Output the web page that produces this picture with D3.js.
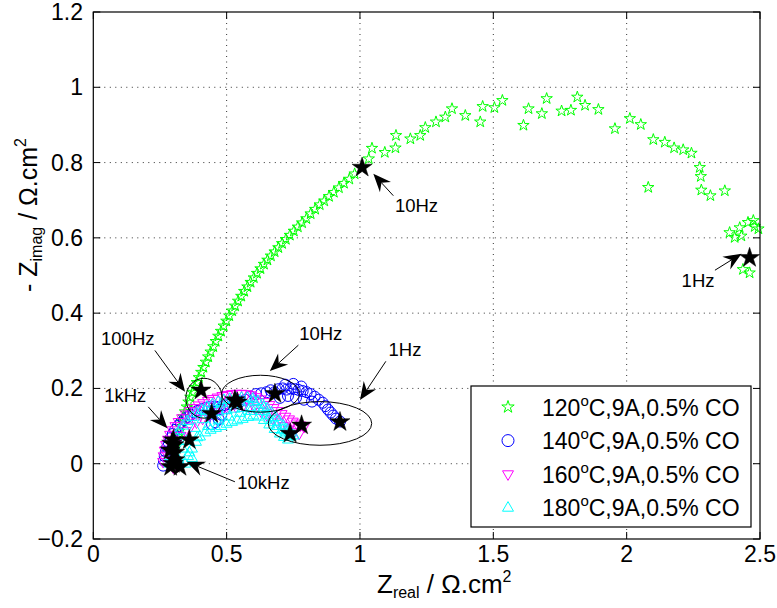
<!DOCTYPE html>
<html><head><meta charset="utf-8">
<script src="https://cdn.jsdelivr.net/npm/d3@7"></script>
<style>body{margin:0;background:#fff;} text{font-family:"Liberation Sans",Arial,Helvetica,sans-serif;fill:#000;}</style>
</head><body><svg id="c" width="777" height="608"></svg>
<script>
// ---------- data ----------
const xTicks=[0,0.5,1,1.5,2,2.5];
const xTickLabels=["0","0.5","1","1.5","2","2.5"];
const yTicks=[-0.2,0,0.2,0.4,0.6,0.8,1,1.2];
const yTickLabels=["\u22120.2","0","0.2","0.4","0.6","0.8","1","1.2"];
const seriesTemps=["120","140","160","180"];
const seriesRest="C,9A,0.5% CO";

const zr120=[0.292,0.296,0.300,0.303,0.307,0.311,0.316,0.321,0.326,0.332,0.338,0.344,0.351,0.357,0.364,0.372,0.380,0.388,0.396,0.405,0.413,0.422,0.431,0.440,0.450,0.459,0.469,0.479,0.489,0.499,0.510,0.521,0.532,0.543,0.555,0.566,0.578,0.590,0.602,0.614,0.627,0.640,0.653,0.666,0.680,0.694,0.708,0.722,0.737,0.752,0.767,0.783,0.799,0.815,0.832,0.849,0.866,0.884,0.902,0.921,0.940,0.960,0.980,1.008,
 1.033,1.045,1.093,1.133,1.135,1.189,1.226,1.245,1.285,1.320,1.345,1.395,1.451,1.460,1.504,1.534,1.613,1.632,1.682,1.700,1.756,1.791,1.815,1.844,1.894,1.956,2.012,2.053,2.081,2.100,2.143,2.178,2.212,2.243,2.274,2.278,2.280,2.314,2.368,2.386,2.405,2.424,2.430,2.455,2.475,2.480,2.494,2.436,2.461,2.461];
const zi120=[0.000,0.012,0.024,0.036,0.048,0.060,0.073,0.086,0.099,0.112,0.125,0.138,0.151,0.164,0.177,0.190,0.203,0.216,0.229,0.243,0.256,0.270,0.284,0.297,0.311,0.325,0.339,0.352,0.366,0.379,0.393,0.406,0.419,0.432,0.445,0.458,0.470,0.482,0.494,0.506,0.518,0.530,0.541,0.552,0.563,0.574,0.585,0.596,0.607,0.618,0.629,0.640,0.651,0.664,0.676,0.688,0.698,0.710,0.721,0.733,0.745,0.756,0.770,0.787,
 0.810,0.838,0.827,0.839,0.872,0.863,0.872,0.893,0.908,0.921,0.943,0.925,0.908,0.949,0.946,0.965,0.899,0.943,0.930,0.970,0.937,0.939,0.974,0.952,0.941,0.890,0.917,0.901,0.734,0.861,0.854,0.839,0.834,0.825,0.787,0.763,0.727,0.712,0.725,0.614,0.601,0.627,0.605,0.641,0.646,0.630,0.624,0.516,0.507,0.547];

const zr140=[0.262,0.265,0.268,0.272,0.277,0.283,0.290,0.298,0.307,0.317,0.328,0.340,0.352,0.365,0.378,0.392,0.406,0.420,0.434,0.445,0.458,0.470,0.480,0.475,0.462,0.455,0.470,0.490,0.510,0.530,0.550,0.570,0.590,0.610,0.630,0.650,0.665,0.680,0.695,0.710,0.725,0.740,0.755,0.770,0.785,0.800,0.815,0.830,0.845,0.860,0.870,0.880,0.890,0.900,0.910,0.925,0.700,0.730,0.760,0.790,0.820,0.720,0.750,0.780];
const zi140=[-0.005,0.008,0.020,0.032,0.044,0.056,0.068,0.079,0.090,0.100,0.109,0.117,0.124,0.130,0.136,0.141,0.145,0.148,0.150,0.105,0.110,0.118,0.130,0.145,0.150,0.152,0.150,0.155,0.158,0.160,0.165,0.170,0.178,0.185,0.187,0.190,0.195,0.190,0.198,0.200,0.197,0.200,0.198,0.196,0.193,0.190,0.185,0.178,0.170,0.162,0.153,0.144,0.136,0.128,0.120,0.112,0.175,0.180,0.175,0.170,0.165,0.210,0.212,0.205];

const zr160=[0.262,0.264,0.268,0.273,0.280,0.288,0.297,0.308,0.320,0.333,0.347,0.362,0.378,0.395,0.412,0.430,0.448,0.466,0.484,0.502,0.520,0.538,0.556,0.574,0.592,0.610,0.627,0.644,0.660,0.676,0.691,0.706,0.720,0.734,0.748,0.762,0.776,0.790,
 0.285,0.295,0.310,0.327,0.345,0.365,0.387,0.410,0.435,0.460,0.485,0.510,0.535,0.560,0.585,0.608,0.630,0.651,0.672,0.692,0.712,0.732,0.752,0.772,0.300,0.318];
const zi160=[0.005,0.020,0.035,0.050,0.064,0.077,0.089,0.100,0.111,0.121,0.131,0.140,0.148,0.155,0.161,0.167,0.172,0.176,0.180,0.183,0.185,0.186,0.186,0.185,0.182,0.177,0.171,0.164,0.156,0.148,0.140,0.132,0.125,0.118,0.112,0.107,0.102,0.098,
 0.030,0.045,0.060,0.074,0.087,0.099,0.110,0.120,0.129,0.137,0.143,0.148,0.151,0.152,0.150,0.145,0.138,0.129,0.120,0.110,0.100,0.091,0.084,0.080,-0.010,-0.005];

const zr180=[0.285,0.288,0.293,0.300,0.310,0.322,0.336,0.352,0.369,0.387,0.406,0.426,0.447,0.468,0.490,0.512,0.534,0.556,0.578,0.598,0.617,0.635,0.652,0.668,0.683,0.698,0.712,0.726,0.740,0.752,
 0.345,0.355,0.370,0.385,0.400,0.420,0.440,0.460,0.480,0.500,0.520,0.540,0.560,0.580,0.600,0.620,0.640,0.660,0.680,0.700,0.715,0.730,
 0.320,0.350,0.380,0.410,0.440,0.470,0.500,0.530,0.560,0.590,0.620,0.650,0.680,0.710,0.740,
 0.360,0.390,0.430,0.470,0.510,0.550,0.590,0.630,0.660,0.690,0.720,0.420,0.480,0.550,0.600,0.640,0.335,0.370];
const zi180=[0.000,0.020,0.040,0.058,0.074,0.088,0.101,0.113,0.124,0.134,0.143,0.151,0.158,0.164,0.169,0.172,0.174,0.175,0.175,0.172,0.166,0.157,0.147,0.136,0.124,0.112,0.101,0.091,0.082,0.075,
 0.000,0.020,0.040,0.058,0.072,0.083,0.090,0.095,0.100,0.106,0.111,0.115,0.119,0.124,0.128,0.125,0.116,0.104,0.092,0.080,0.071,0.064,
 0.010,0.060,0.095,0.118,0.130,0.138,0.142,0.146,0.148,0.150,0.145,0.130,0.110,0.090,0.072,
 0.030,0.070,0.100,0.115,0.125,0.135,0.140,0.140,0.120,0.100,0.085,0.140,0.160,0.165,0.165,0.150,0.040,0.015];

const markZr=[0.300,0.303,0.404,1.008,2.461, 0.290,0.294,0.444,0.681,0.925, 0.306,0.300,0.360,0.531,0.781, 0.325,0.288,0.305,0.540,0.738];
const markZi=[0.000,0.050,0.195,0.787,0.547, -0.008,0.054,0.133,0.186,0.111, 0.010,0.063,0.063,0.169,0.102, -0.008,0.036,0.030,0.163,0.080];

// annotations (data units)
const ellipses=[{cx:0.415,cy:0.174,rx:0.068,ry:0.053},{cx:0.627,cy:0.186,rx:0.146,ry:0.049},{cx:0.850,cy:0.107,rx:0.194,ry:0.058}];
const notes=[
 {t:"100Hz",tx:0.029,ty:0.315,x1:0.231,y1:0.301,x2:0.344,y2:0.191},
 {t:"1kHz",tx:0.041,ty:0.164,x1:0.206,y1:0.151,x2:0.278,y2:0.094},
 {t:"10Hz",tx:0.772,ty:0.328,x1:0.769,y1:0.315,x2:0.662,y2:0.246},
 {t:"1Hz",tx:1.107,ty:0.285,x1:1.097,y1:0.272,x2:1.000,y2:0.169},
 {t:"10kHz",tx:0.540,ty:-0.066,x1:0.531,y1:-0.048,x2:0.350,y2:0.005},
 {t:"10Hz",tx:1.131,ty:0.668,x1:1.125,y1:0.712,x2:1.050,y2:0.770},
 {t:"1Hz",tx:2.206,ty:0.469,x1:2.331,y1:0.514,x2:2.431,y2:0.558}
];

// ---------- drawing ----------
const svg=d3.select("#c");
const L=93.3,R=760,T=12,B=539;
const x=d3.scaleLinear().domain([0,2.5]).range([L,R]);
const y=d3.scaleLinear().domain([-0.2,1.2]).range([B,T]);

function starPath(Ro){const ri=Ro*0.382;let p="";for(let i=0;i<10;i++){const a=-Math.PI/2+i*Math.PI/5;const rr=i%2?ri:Ro;p+=(i?"L":"M")+(rr*Math.cos(a)).toFixed(2)+","+(rr*Math.sin(a)).toFixed(2);}return p+"Z";}
const triDown="M-5.5,-3.4L5.5,-3.4L0,6.2Z", triUp="M-5.5,3.4L5.5,3.4L0,-6.2Z";

svg.append("rect").attr("x",0).attr("y",0).attr("width",777).attr("height",608).attr("fill","#fff");

// grid
const g=svg.append("g");
g.selectAll(".gx").data(xTicks.slice(1,-1)).enter().append("line")
 .attr("x1",d=>x(d)).attr("x2",d=>x(d)).attr("y1",T).attr("y2",B)
 .attr("stroke","#333").attr("stroke-width",1).attr("stroke-dasharray","1,4.5");
g.selectAll(".gy").data(yTicks.slice(1,-1)).enter().append("line")
 .attr("y1",d=>y(d)).attr("y2",d=>y(d)).attr("x1",L).attr("x2",R)
 .attr("stroke","#333").attr("stroke-width",1).attr("stroke-dasharray","1,4.5");

const data=(a,b)=>a.map((v,i)=>[v,b[i]]);
const s120=data(zr120,zi120),s140=data(zr140,zi140),s160=data(zr160,zi160),s180=data(zr180,zi180);
const smallStar=starPath(6);
svg.append("g").selectAll("path").data(s120).enter().append("path")
 .attr("d",smallStar).attr("transform",d=>`translate(${x(d[0])},${y(d[1])})`)
 .attr("fill","none").attr("stroke","#00ff00").attr("stroke-width",1);
svg.append("g").selectAll("circle").data(s140).enter().append("circle")
 .attr("cx",d=>x(d[0])).attr("cy",d=>y(d[1])).attr("r",5.5)
 .attr("fill","none").attr("stroke","#0000ff").attr("stroke-width",1);
svg.append("g").selectAll("path").data(s160).enter().append("path")
 .attr("d",triDown).attr("transform",d=>`translate(${x(d[0])},${y(d[1])})`)
 .attr("fill","none").attr("stroke","#ff00ff").attr("stroke-width",1);
svg.append("g").selectAll("path").data(s180).enter().append("path")
 .attr("d",triUp).attr("transform",d=>`translate(${x(d[0])},${y(d[1])})`)
 .attr("fill","none").attr("stroke","#00ffff").attr("stroke-width",1);

// frequency marker stars
svg.append("g").selectAll("path").data(data(markZr,markZi)).enter().append("path")
 .attr("d",starPath(10.5)).attr("transform",d=>`translate(${x(d[0])},${y(d[1])})`)
 .attr("fill","#000").attr("stroke","#000").attr("stroke-width",0.5);

// ellipses
svg.append("g").selectAll("ellipse").data(ellipses).enter().append("ellipse")
 .attr("cx",d=>x(d.cx)).attr("cy",d=>y(d.cy))
 .attr("rx",d=>x(d.rx)-x(0)).attr("ry",d=>y(0)-y(d.ry))
 .attr("fill","none").attr("stroke","#000").attr("stroke-width",1);

// arrows
const an=svg.append("g");
notes.forEach(n=>{
 const X1=x(n.x1),Y1=y(n.y1),X2=x(n.x2),Y2=y(n.y2);
 const dx=X2-X1,dy=Y2-Y1,len=Math.hypot(dx,dy),ux=dx/len,uy=dy/len,px=-uy,py=ux;
 const HL=18,HW=7.5,N=6;
 an.append("line").attr("x1",X1).attr("y1",Y1).attr("x2",X2-ux*(HL-N)).attr("y2",Y2-uy*(HL-N)).attr("stroke","#000").attr("stroke-width",1);
 const bx=X2-ux*HL,by=Y2-uy*HL,nx=X2-ux*(HL-N),ny=Y2-uy*(HL-N);
 an.append("path").attr("d",`M${X2},${Y2}L${bx+px*HW},${by+py*HW}L${nx},${ny}L${bx-px*HW},${by-py*HW}Z`).attr("fill","#000");
 an.append("text").attr("x",x(n.tx)).attr("y",y(n.ty)).attr("font-size",18.5).text(n.t);
});

// axes box
svg.append("rect").attr("x",L).attr("y",T).attr("width",R-L).attr("height",B-T).attr("fill","none").attr("stroke","#000").attr("stroke-width",1.2);
const tk=7;
const ax=svg.append("g");
xTicks.forEach(v=>{
 ax.append("line").attr("x1",x(v)).attr("x2",x(v)).attr("y1",B).attr("y2",B-tk).attr("stroke","#000");
 ax.append("line").attr("x1",x(v)).attr("x2",x(v)).attr("y1",T).attr("y2",T+tk).attr("stroke","#000");
});
yTicks.forEach(v=>{
 ax.append("line").attr("y1",y(v)).attr("y2",y(v)).attr("x1",L).attr("x2",L+tk).attr("stroke","#000");
 ax.append("line").attr("y1",y(v)).attr("y2",y(v)).attr("x1",R).attr("x2",R-tk).attr("stroke","#000");
});
ax.selectAll(".xl").data(xTicks).enter().append("text")
 .attr("x",d=>x(d)).attr("y",562).attr("text-anchor","middle").attr("font-size",23).text((d,i)=>xTickLabels[i]);
ax.selectAll(".yl").data(yTicks).enter().append("text")
 .attr("x",83).attr("y",d=>y(d)+8).attr("text-anchor","end").attr("font-size",23).text((d,i)=>yTickLabels[i]);

// axis labels
const xl=svg.append("text").attr("x",377).attr("y",593).attr("font-size",26);
xl.append("tspan").text("Z");
xl.append("tspan").attr("font-size",16).attr("dy",5).text("real");
xl.append("tspan").attr("dy",-5).text(" / \u03A9.cm");
xl.append("tspan").attr("font-size",16).attr("dy",-11).text("2");
const yl=svg.append("text").attr("transform","translate(37,292) rotate(-90)").attr("font-size",25);
yl.append("tspan").text("- Z");
yl.append("tspan").attr("font-size",16).attr("dy",5).text("imag");
yl.append("tspan").attr("dy",-5).text(" / \u03A9.cm");
yl.append("tspan").attr("font-size",16).attr("dy",-11).text("2");

// legend
const lg=svg.append("g");
lg.append("rect").attr("x",471).attr("y",386).attr("width",280).attr("height",141).attr("fill","#fff").attr("stroke","#000").attr("stroke-width",1.2);
const legShapes=[
 sel=>sel.append("path").attr("d",starPath(6.5)).attr("fill","none").attr("stroke","#00ff00"),
 sel=>sel.append("circle").attr("r",6).attr("fill","none").attr("stroke","#0000ff"),
 sel=>sel.append("path").attr("d",triDown).attr("fill","none").attr("stroke","#ff00ff"),
 sel=>sel.append("path").attr("d",triUp).attr("fill","none").attr("stroke","#00ffff")
];
seriesTemps.forEach((t,i)=>{
 const cy=407+i*33.6;
 const m=lg.append("g").attr("transform",`translate(508,${cy})`);
 legShapes[i](m);
 const tx=lg.append("text").attr("x",542).attr("y",cy+8.5).attr("font-size",23);
 tx.append("tspan").text(t);
 tx.append("tspan").attr("font-size",15).attr("dy",-10).text("o");
 tx.append("tspan").attr("dy",10).text(seriesRest);
});
</script></body></html>
